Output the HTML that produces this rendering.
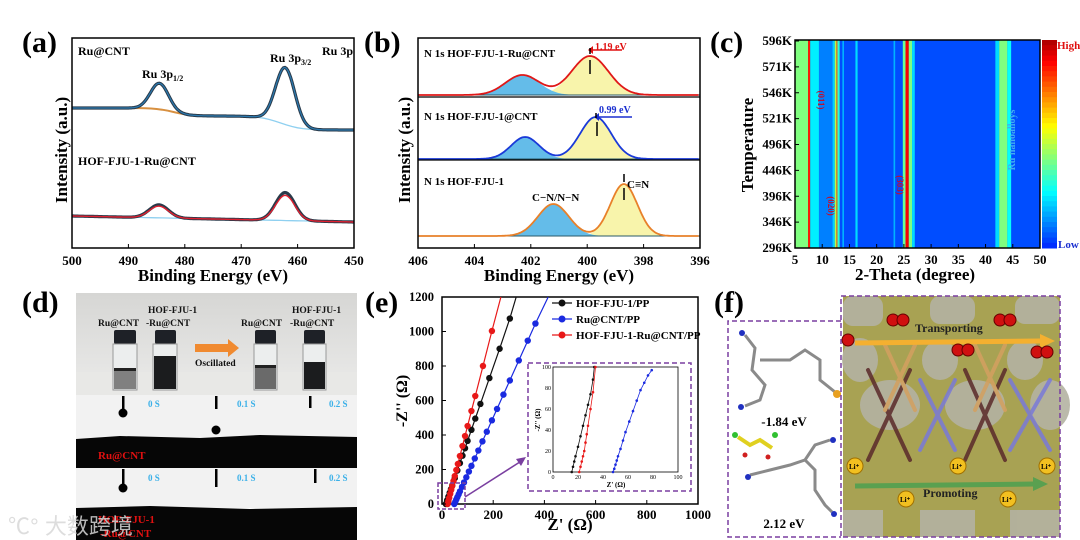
<!DOCTYPE html>
<html><head><meta charset="utf-8"><style>
html,body{margin:0;padding:0;background:#fff;width:1080px;height:540px;overflow:hidden}
svg{display:block;font-family:"Liberation Serif",serif}
.b{font-weight:bold}
</style></head><body>
<svg id="fig" width="1080" height="540" viewBox="0 0 1080 540" xmlns="http://www.w3.org/2000/svg">
<g class="b" font-size="30" fill="#000">
<text x="22" y="52">(a)</text>
<text x="364" y="52">(b)</text>
<text x="710" y="52">(c)</text>
<text x="22" y="312">(d)</text>
<text x="365" y="312">(e)</text>
<text x="714" y="312">(f)</text>
</g>

<g id="pa">
<g id="paCurves"></g>
<rect x="72" y="38" width="282" height="210" fill="none" stroke="#000" stroke-width="1.5"/>
<g id="paTicks" font-size="13" class="b"></g>
<text x="213" y="281" text-anchor="middle" font-size="17" class="b">Binding Energy (eV)</text>
<text transform="translate(67,150) rotate(-90)" text-anchor="middle" font-size="17" class="b">Intensity (a.u.)</text>
<text x="78" y="55" font-size="12" class="b">Ru@CNT</text>
<text x="322" y="55" font-size="12" class="b">Ru 3p</text>
<text x="142" y="78" font-size="12" class="b">Ru 3p<tspan font-size="8" dy="3">1/2</tspan></text>
<text x="270" y="62" font-size="12" class="b">Ru 3p<tspan font-size="8" dy="3">3/2</tspan></text>
<text x="78" y="165" font-size="12" class="b">HOF-FJU-1-Ru@CNT</text>
</g>

<g id="pb">
<g id="pbCurves"></g>
<line x1="418" y1="97" x2="700" y2="97" stroke="#000" stroke-width="1.2"/>
<line x1="418" y1="160" x2="700" y2="160" stroke="#000" stroke-width="1.2"/>
<rect x="418" y="38" width="282" height="210" fill="none" stroke="#000" stroke-width="1.5"/>
<g id="pbTicks" font-size="13" class="b"></g>
<text x="559" y="281" text-anchor="middle" font-size="17" class="b">Binding Energy (eV)</text>
<text transform="translate(410,150) rotate(-90)" text-anchor="middle" font-size="17" class="b">Intensity (a.u.)</text>
<g font-size="11" class="b">
<text x="424" y="57">N 1s  HOF-FJU-1-Ru@CNT</text>
<text x="424" y="120">N 1s  HOF-FJU-1@CNT</text>
<text x="424" y="185">N 1s  HOF-FJU-1</text>
<text x="532" y="201">C−N/N−N</text>
<text x="627" y="188">C≡N</text>
<text x="595" y="50" fill="#e01010" font-size="10">1.19 eV</text>
<text x="599" y="113" fill="#1a2fd0" font-size="10">0.99 eV</text>
</g>
<line x1="590" y1="50" x2="622" y2="50" stroke="#e01010" stroke-width="1.5"/><path d="M593,46 L588,50 L593,54 Z" fill="#e01010"/>
<line x1="595" y1="117" x2="632" y2="117" stroke="#1a2fd0" stroke-width="1.5"/><path d="M599,113 L594,117 L599,121 Z" fill="#1a2fd0"/>
<g stroke="#000" stroke-width="1.5">
<line x1="590" y1="48" x2="590" y2="54"/><line x1="590" y1="60" x2="590" y2="74"/>
<line x1="596" y1="113" x2="596" y2="118"/><line x1="597" y1="122" x2="597" y2="136"/>
<line x1="624" y1="174" x2="624" y2="182"/><line x1="624" y1="188" x2="624" y2="200"/>
</g>
</g>

<g id="pc">
<g id="pcCells"></g>
<rect x="795" y="40" width="245" height="208" fill="none" stroke="#000" stroke-width="1.5"/>
<g id="pcBar"></g>
<g id="pcTicks" font-size="13" class="b"></g>
<text x="915" y="280" text-anchor="middle" font-size="17" class="b">2-Theta (degree)</text>
<text transform="translate(753,145) rotate(-90)" text-anchor="middle" font-size="17" class="b">Temperature</text>
<text x="1057" y="49" font-size="11" class="b" fill="#e01010">High</text>
<text x="1058" y="248" font-size="11" class="b" fill="#1a2fd0">Low</text>
<text transform="translate(818,100) rotate(90)" text-anchor="middle" font-size="9" class="b" fill="#c01030">(011)</text>
<text transform="translate(828,206) rotate(90)" text-anchor="middle" font-size="9" class="b" fill="#c01030">(020)</text>
<text transform="translate(897,185) rotate(90)" text-anchor="middle" font-size="9" class="b" fill="#c01030">(303)</text>
<text transform="translate(1015,140) rotate(-90)" text-anchor="middle" font-size="10" class="b" fill="#40b0f0">Ru nanoalloys</text>
</g>

<g id="pd">
<defs><linearGradient id="bgg" x1="0" y1="0" x2="0" y2="1"><stop offset="0" stop-color="#d6d6d4"/><stop offset="1" stop-color="#ebebea"/></linearGradient></defs>
<rect x="76" y="293" width="281" height="102" fill="url(#bgg)"/>
<rect x="76" y="372" width="281" height="23" fill="#e8e8e6"/>
<g>
<g><rect x="114" y="330" width="22" height="14" rx="2" fill="#1e2127"/><rect x="113" y="344" width="24" height="46" fill="#eceeee" stroke="#999"/><rect x="114" y="368" width="22" height="21" fill="#808080"/><rect x="114" y="368" width="22" height="3" fill="#222"/></g>
<g><rect x="155" y="330" width="21" height="14" rx="2" fill="#1e2127"/><rect x="153" y="344" width="24" height="46" fill="#eceeee" stroke="#999"/><rect x="154" y="356" width="22" height="33" fill="#1b1c1e"/></g>
<g><rect x="255" y="330" width="21" height="14" rx="2" fill="#1e2127"/><rect x="254" y="344" width="23" height="46" fill="#eceeee" stroke="#999"/><rect x="255" y="365" width="21" height="24" fill="#6a6a6a"/><rect x="255" y="365" width="21" height="3" fill="#222"/></g>
<g><rect x="304" y="330" width="21" height="14" rx="2" fill="#1e2127"/><rect x="303" y="344" width="23" height="46" fill="#eceeee" stroke="#999"/><rect x="304" y="362" width="21" height="27" fill="#1b1c1e"/></g>
</g>
<path d="M195,344 H228 V339 L239,348 L228,357 V352 H195 Z" fill="#f08a30"/>
<g font-size="9.5" class="b" fill="#111">
<text x="98" y="326">Ru@CNT</text><text x="148" y="313">HOF-FJU-1</text><text x="146" y="326">-Ru@CNT</text>
<text x="241" y="326">Ru@CNT</text><text x="292" y="313">HOF-FJU-1</text><text x="290" y="326">-Ru@CNT</text>
<text x="195" y="366">Oscillated</text>
</g>
<rect x="76" y="395" width="281" height="44" fill="#f2f2f2"/>
<path d="M76,439 L120,436 L200,438 L260,435 L357,437 V468 H76 Z" fill="#060606"/>
<rect x="76" y="468" width="281" height="40" fill="#f2f2f2"/>
<path d="M76,508 L150,506 L250,509 L357,507 V540 H76 Z" fill="#060606"/>
<g fill="#000">
<rect x="122" y="396" width="2.5" height="14"/><circle cx="123" cy="413" r="4.5"/>
<circle cx="216" cy="430" r="4.5"/><rect x="215" y="396" width="2.5" height="13"/>
<rect x="309" y="396" width="2.5" height="12"/>
<rect x="122" y="469" width="2.5" height="16"/><circle cx="123" cy="488" r="4.5"/>
<rect x="215" y="469" width="2.5" height="18"/>
<rect x="314" y="469" width="2.5" height="14"/>
</g>
<g font-size="9" class="b" fill="#3ab0e8">
<text x="148" y="407">0 S</text><text x="237" y="407">0.1 S</text><text x="329" y="407">0.2 S</text>
<text x="148" y="481">0 S</text><text x="237" y="481">0.1 S</text><text x="329" y="481">0.2 S</text>
</g>
<g font-size="11" class="b" fill="#e01010">
<text x="98" y="459">Ru@CNT</text>
<text x="98" y="523">HOF-FJU-1</text><text x="100" y="537">-Ru@CNT</text>
</g>
</g>

<g id="pe">
<rect x="442" y="297" width="256" height="207" fill="none" stroke="#000" stroke-width="1.5"/>
<g id="peMarks"></g>
<g id="peTicks" class="b"></g>
<text x="570" y="530" text-anchor="middle" font-size="17" class="b">Z' (Ω)</text>
<text transform="translate(407,401) rotate(-90)" text-anchor="middle" font-size="16" class="b">-Z'' (Ω)</text>
<g id="peLegend" font-size="11" class="b"></g>
<rect x="438" y="483" width="27" height="26" fill="none" stroke="#7a3fa0" stroke-width="1.5" stroke-dasharray="4,2"/>
<line x1="465" y1="497" x2="523" y2="460" stroke="#7a3fa0" stroke-width="1.5"/><path d="M526,457 L516,459 L521,466 Z" fill="#7a3fa0"/>
<rect x="528" y="363" width="163" height="128" fill="#fff" stroke="#7a3fa0" stroke-width="1.5" stroke-dasharray="5,3"/>
<rect x="553" y="367" width="125" height="105" fill="none" stroke="#000" stroke-width="0.8"/>
<g id="peInset" font-size="6"></g>
<text x="616" y="487" text-anchor="middle" font-size="7" class="b">Z' (Ω)</text>
<text transform="translate(540,420) rotate(-90)" text-anchor="middle" font-size="7" class="b">-Z'' (Ω)</text>
</g>

<g id="pf">
<path d="M841,321 H728 V537 H841" fill="none" stroke="#7a3fa0" stroke-width="1.5" stroke-dasharray="5,3"/>
<rect x="843" y="296" width="217" height="241" fill="#a8a253"/>
<g fill="#b4b2a2" opacity="0.9">
<rect x="843" y="296" width="40" height="30" rx="10"/><rect x="930" y="296" width="45" height="28" rx="10"/><rect x="1015" y="296" width="45" height="28" rx="10"/>
<ellipse cx="890" cy="405" rx="30" ry="25"/><ellipse cx="975" cy="405" rx="30" ry="25"/><ellipse cx="1050" cy="405" rx="20" ry="25"/>
<ellipse cx="860" cy="360" rx="18" ry="22"/><ellipse cx="940" cy="360" rx="18" ry="20"/><ellipse cx="1025" cy="360" rx="18" ry="20"/>
<rect x="843" y="510" width="40" height="27"/><rect x="920" y="510" width="55" height="27"/><rect x="1010" y="510" width="50" height="27"/>
</g>
<g stroke-width="4" stroke-linecap="round" opacity="0.85">
<path d="M868,370 L910,460 M910,370 L868,460" stroke="#5a2a2a"/><path d="M965,370 L1005,460 M1005,370 L965,460" stroke="#5a2a2a"/>
<path d="M920,380 L955,450 M955,380 L920,450" stroke="#7a7ad8"/><path d="M1010,380 L1050,450 M1050,380 L1010,450" stroke="#7a7ad8"/>
<path d="M885,345 L915,410 M915,345 L885,410" stroke="#d4a060"/><path d="M975,345 L1005,410 M1005,345 L975,410" stroke="#d4a060"/>
</g>
<line x1="855" y1="343" x2="1040" y2="341" stroke="#f4b030" stroke-width="5"/><path d="M1040,334 L1055,341 L1040,348 Z" fill="#f4b030"/>
<line x1="855" y1="486" x2="1035" y2="484" stroke="#5aa050" stroke-width="5"/><path d="M1033,477 L1048,484 L1033,491 Z" fill="#5aa050"/>
<g fill="#d01010" stroke="#600" stroke-width="1">
<circle cx="893" cy="320" r="6"/><circle cx="903" cy="320" r="6"/><circle cx="1000" cy="320" r="6"/><circle cx="1010" cy="320" r="6"/>
<circle cx="848" cy="340" r="6"/><circle cx="958" cy="350" r="6"/><circle cx="968" cy="350" r="6"/><circle cx="1037" cy="352" r="6"/><circle cx="1047" cy="352" r="6"/>
</g>
<g fill="#f2c020" stroke="#a07000"><circle cx="855" cy="466" r="8"/><circle cx="958" cy="466" r="8"/><circle cx="1047" cy="466" r="8"/><circle cx="906" cy="499" r="8"/><circle cx="1008" cy="499" r="8"/></g>
<g font-size="7" class="b"><text x="849" y="469">Li⁺</text><text x="952" y="469">Li⁺</text><text x="1041" y="469">Li⁺</text><text x="900" y="502">Li⁺</text><text x="1002" y="502">Li⁺</text></g>
<text x="915" y="332" font-size="12" class="b" fill="#222">Transporting</text>
<text x="923" y="497" font-size="12" class="b" fill="#222">Promoting</text>
<g stroke="#8a8a8a" stroke-width="3" fill="none">
<path d="M745,335 L755,348 L752,370 L765,385 L760,400 L745,406"/><path d="M772,360 L790,360 L805,350 L820,360 L820,380 L835,392"/>
<path d="M760,360 L772,360"/>
</g>
<circle cx="742" cy="333" r="3" fill="#2030c0"/><circle cx="741" cy="407" r="3" fill="#2030c0"/><circle cx="837" cy="394" r="4" fill="#e8a020"/>
<text x="784" y="426" text-anchor="middle" font-size="13" class="b">-1.84 eV</text>
<g stroke="#8a8a8a" stroke-width="3" fill="none">
<path d="M750,475 L770,470 L790,465 L805,460 L815,470 L815,490 L825,505 L832,512"/><path d="M805,460 L815,445 L830,440"/>
</g>
<path d="M738,437 L750,445 L760,440 L772,448" stroke="#e0d020" stroke-width="4" fill="none"/>
<circle cx="735" cy="435" r="3" fill="#30c030"/><circle cx="775" cy="435" r="3" fill="#30c030"/><circle cx="745" cy="455" r="2.5" fill="#d02020"/><circle cx="768" cy="457" r="2.5" fill="#d02020"/>
<circle cx="748" cy="477" r="3" fill="#2030c0"/><circle cx="833" cy="440" r="3" fill="#2030c0"/><circle cx="834" cy="514" r="3" fill="#2030c0"/>
<text x="784" y="528" text-anchor="middle" font-size="13" class="b">2.12 eV</text>
<path d="M841,296 H1060 V537 H841 Z" fill="none" stroke="#7a3fa0" stroke-width="1.5" stroke-dasharray="5,3"/>
</g>

<text x="8" y="534" font-family="'Liberation Sans','Noto Sans CJK SC',sans-serif" font-size="22" fill="#d8d8d8" opacity="0.85">℃° 大数跨境</text>
</svg>
<script>
const aTicks=[500,490,480,470,460,450];
const aTopPeaks=[484.5,462.2];
const aTopHeights=[26,57];
const aTopWidths=[1.6,1.7];
const aBotPeaks=[484.6,462.2];
const aBotHeights=[13,28];
const aBotWidths=[1.7,1.7];
const bTicks=[406,404,402,400,398,396];
const bCenters1=[402.3,399.9], bHeights1=[20,39], bWidths1=[0.6,0.65];
const bCenters2=[402.2,399.7], bHeights2=[22,42], bWidths2=[0.5,0.55];
const bCenters3=[401.2,398.7], bHeights3=[32,52], bWidths3=[0.55,0.48];
const cXTicks=[5,10,15,20,25,30,35,40,45,50];
const cYTicks=['296K','346K','396K','446K','496K','521K','546K','571K','596K'];
const cBandStart=[5,7.4,7.8,9.4,11.9,12.3,12.6,12.8,13.7,16.1,23.1,24.8,25.3,25.9,26.5,41.8,42.5,44.0];
const cBandEnd  =[7.4,7.8,9.4,11.9,12.3,12.6,12.8,13.2,14.0,16.5,23.4,25.3,25.9,26.5,27.0,42.5,44.0,44.7];
const cBandLevel=[0.5,0.85,0.36,0.25,0.33,0.55,0.78,0.42,0.3,0.34,0.3,0.48,0.88,0.5,0.34,0.34,0.5,0.38];
const cBackground=0.2;
const eXTicks=[0,200,400,600,800,1000];
const eYTicks=[0,200,400,600,800,1000,1200];
const eBlackX=[15,20,25,30,35,40,50,60,70,80,90,100,115,130,150,185,225,265,290];
const eBlackY=[0,22,43,65,86,108,150,194,237,280,323,366,430,495,580,730,900,1075,1200];
const eBlueX=[48,52,56,60,65,70,78,86,95,105,115,128,142,158,175,195,215,240,265,300,335,365,415];
const eBlueY=[0,13,26,40,56,73,99,125,155,188,221,264,310,363,419,485,551,634,716,832,947,1046,1200];
const eRedX=[22,25,28,32,36,40,45,50,56,62,70,80,90,100,115,130,160,195,230];
const eRedY=[0,17,35,58,81,104,133,162,197,232,278,336,394,452,539,626,800,1003,1200];
const iBlackX=[15,16,17,18,20,22,24,26,28,30,32,33];
const iBlackY=[0,5,10,15,24,34,44,54,64,74,88,100];
const iRedX=[21,22,23,24,25,26,27,28,30,32,34];
const iRedY=[0,5,10,15,20,28,36,44,60,76,100];
const iBlueX=[48,49,50,51,52,54,56,58,61,64,67,70,73,76,79];
const iBlueY=[0,3,7,11,15,22,30,38,48,58,68,78,85,92,97];
const eLegend=['HOF-FJU-1/PP','Ru@CNT/PP','HOF-FJU-1-Ru@CNT/PP'];

const NS='http://www.w3.org/2000/svg';
function mk(tag,attrs,parent){const e=document.createElementNS(NS,tag);for(const k in attrs)e.setAttribute(k,attrs[k]);parent.appendChild(e);return e;}
function gauss(x,c,h,w){return h*Math.exp(-0.5*((x-c)/w)**2);}

(function(){
const g=document.getElementById('paCurves'),t=document.getElementById('paTicks');
const xA=e=>72+(500-e)/50*282;
const bgTop=e=>108+8/(1+Math.exp(-(482-e)/1.5))+14/(1+Math.exp(-(463-e)/1.8));
const bgBot=e=>216+6*(500-e)/50;
function curve(peaks,hts,wds,bg){let p=[];for(let e=500;e>=450;e-=0.25){let s=0;for(let i=0;i<peaks.length;i++)s+=gauss(e,peaks[i],hts[i],wds[i]);p.push([xA(e),bg(e)-s]);}return p;}
function bgLine(bg){let p=[];for(let e=500;e>=450;e-=1)p.push([xA(e),bg(e)]);return p;}
const pts=a=>a.map(q=>q[0].toFixed(1)+','+q[1].toFixed(1)).join(' ');
let l;
l=mk('polyline',{points:pts(bgLine(bgTop)),fill:'none',stroke:'#8fd0f0','stroke-width':1.3},g);


l=mk('polyline',{points:pts(bgLine(e=>bgTop(e)).filter(q=>q[0]<xA(479))),fill:'none',stroke:'#d89040','stroke-width':2},g);
l=mk('polyline',{points:pts(curve(aTopPeaks,aTopHeights,aTopWidths,bgTop)),fill:'none',stroke:'#2a3a4a','stroke-width':3.2},g);


l=mk('polyline',{points:pts(curve(aTopPeaks,aTopHeights,aTopWidths,bgTop)),fill:'none',stroke:'#2a7ab0','stroke-width':1.2},g);
l=mk('polyline',{points:pts(bgLine(bgBot)),fill:'none',stroke:'#8fd0f0','stroke-width':1.3},g);


l=mk('polyline',{points:pts(curve(aBotPeaks,aBotHeights,aBotWidths,bgBot)),fill:'none',stroke:'#2a3a4a','stroke-width':3.2},g);


l=mk('polyline',{points:pts(curve(aBotPeaks,aBotHeights.map(h=>h*0.9),aBotWidths,bgBot)),fill:'none',stroke:'#e02030','stroke-width':1.4},g);


aTicks.forEach(v=>{const x=xA(v);mk('line',{x1:x,y1:248,x2:x,y2:244,stroke:'#000'},t);
 const tx=mk('text',{x:x,y:265,'text-anchor':'middle'},t);tx.textContent=v;
 
 });
})();

(function(){
const g=document.getElementById('pbCurves'),t=document.getElementById('pbTicks');
const xB=e=>418+(406-e)/10*282;
const sets=[[bCenters1,bHeights1,bWidths1,95,'#e01818','ru'],[bCenters2,bHeights2,bWidths2,159,'#1a3ad8','cnt'],[bCenters3,bHeights3,bWidths3,236,'#e8802a','hof']];
sets.forEach(s=>{const [c,h,w,base,col,nm]=s;
 const fills=['#5cb8e8','#f8f3a6'];
 for(let k=1;k>=0;k--){let d='M'+xB(406)+','+base;for(let e=406;e>=396;e-=0.05)d+=' L'+xB(e).toFixed(1)+','+(base-gauss(e,c[k],h[k],w[k])).toFixed(1);d+=' L'+xB(396)+','+base+' Z';
  const p=mk('path',{d:d,fill:fills[k],opacity:0.95},g);
  
  }
 let d='';for(let e=406;e>=396;e-=0.05){const y=base-gauss(e,c[0],h[0],w[0])-gauss(e,c[1],h[1],w[1]);d+=(d?' L':'M')+xB(e).toFixed(1)+','+y.toFixed(1);}
 mk('line',{x1:418,y1:base,x2:700,y2:base,stroke:'#2a5a6a','stroke-width':1},g);
 const p=mk('path',{d:d,fill:'none',stroke:col,'stroke-width':1.8},g);
 
 
});
bTicks.forEach(v=>{const x=xB(v);mk('line',{x1:x,y1:248,x2:x,y2:244,stroke:'#000'},t);
 const tx=mk('text',{x:x,y:265,'text-anchor':'middle'},t);tx.textContent=v;
 
 });
})();

(function(){
const g=document.getElementById('pcCells'),bar=document.getElementById('pcBar'),t=document.getElementById('pcTicks');
const xC=v=>795+(v-5)/45*245;
function jet(v){v=Math.max(0,Math.min(1,v));const r=Math.min(1,Math.max(0,1.5-Math.abs(4*v-3))),gg=Math.min(1,Math.max(0,1.5-Math.abs(4*v-2))),b=Math.min(1,Math.max(0,1.5-Math.abs(4*v-1)));return 'rgb('+Math.round(r*255)+','+Math.round(gg*255)+','+Math.round(b*255)+')';}
let r=mk('rect',{x:795,y:40,width:245,height:208,fill:jet(cBackground)},g);


for(let i=0;i<cBandStart.length;i++){const c=mk('rect',{x:xC(cBandStart[i]),y:40,width:xC(cBandEnd[i])-xC(cBandStart[i]),height:208,fill:jet(cBandLevel[i])},g);
 
 }
for(let i=0;i<40;i++){mk('rect',{x:1042,y:40+i*208/40,width:15,height:208/40+0.5,fill:jet(0.95-i/40*0.8)},bar);}
cXTicks.forEach(v=>{const x=xC(v);mk('line',{x1:x,y1:248,x2:x,y2:244,stroke:'#000'},t);
 const tx=mk('text',{x:x,y:264,'text-anchor':'middle'},t);tx.textContent=v;
 
 });
cYTicks.forEach((v,i)=>{const y=248-i*207/(cYTicks.length-1);mk('line',{x1:795,y1:y,x2:799,y2:y,stroke:'#000'},t);
 const tx=mk('text',{x:792,y:y+4,'text-anchor':'end'},t);tx.textContent=v;
 
 });
})();

(function(){
const g=document.getElementById('peMarks'),t=document.getElementById('peTicks'),lg=document.getElementById('peLegend'),ins=document.getElementById('peInset');
const xE=v=>442+v/1000*256, yE=v=>504-v/1200*207;
const series=[[eBlackX,eBlackY,'#111'],[eBlueX,eBlueY,'#1a2ae0'],[eRedX,eRedY,'#e81818']];
const names=['hof-pp','ru-cnt-pp','hof-ru-cnt-pp'];
series.forEach((s,k)=>{const [X,Y,col]=s;
 const l=mk('polyline',{points:X.map((v,i)=>xE(v).toFixed(1)+','+yE(Y[i]).toFixed(1)).join(' '),fill:'none',stroke:col,'stroke-width':1.2},g);
 
 
 X.forEach((v,i)=>{if(i===X.length-1)return;const c=mk('circle',{cx:xE(v),cy:yE(Y[i]),r:3.2,fill:col},g);
  
  });
});
eXTicks.forEach(v=>{const x=xE(v);mk('line',{x1:x,y1:504,x2:x,y2:500,stroke:'#000'},t);
 const tx=mk('text',{x:x,y:519,'text-anchor':'middle','font-size':13},t);tx.textContent=v;
 
 });
eYTicks.forEach(v=>{const y=yE(v);mk('line',{x1:442,y1:y,x2:446,y2:y,stroke:'#000'},t);
 const tx=mk('text',{x:434,y:y+4,'text-anchor':'end','font-size':12.5},t);tx.textContent=v;
 
 });
const cols=['#111','#1a2ae0','#e81818'];
eLegend.forEach((n,i)=>{const y=303+i*16;mk('line',{x1:552,y1:y,x2:572,y2:y,stroke:cols[i],'stroke-width':1.2},lg);mk('circle',{cx:562,cy:y,r:3.5,fill:cols[i]},lg);
 const tx=mk('text',{x:576,y:y+4},lg);tx.textContent=n;
 
 });
const xi=v=>553+v/100*125, yi=v=>472-v/100*105;
[[iBlackX,iBlackY,'#111'],[iRedX,iRedY,'#e81818'],[iBlueX,iBlueY,'#1a2ae0']].forEach(s=>{const [X,Y,col]=s;
 const l=mk('polyline',{points:X.map((v,i)=>xi(v).toFixed(1)+','+yi(Y[i]).toFixed(1)).join(' '),fill:'none',stroke:col,'stroke-width':0.8},ins);
 
 
 X.forEach((v,i)=>{const c=mk('circle',{cx:xi(v),cy:yi(Y[i]),r:1.3,fill:col},ins);
  
  });});
[0,20,40,60,80,100].forEach(v=>{let tx=mk('text',{x:xi(v),y:479,'text-anchor':'middle'},ins);tx.textContent=v;
 tx=mk('text',{x:551,y:yi(v)+2,'text-anchor':'end'},ins);tx.textContent=v;});
})();
</script>
</body></html>
